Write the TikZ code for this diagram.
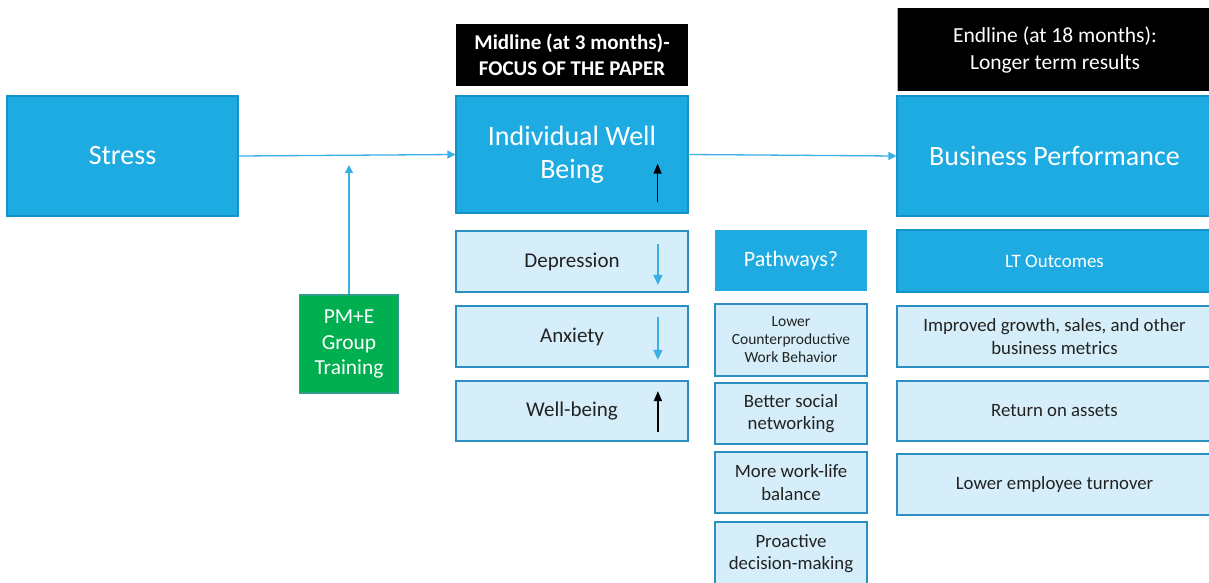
\documentclass[tikz,border=0pt]{standalone}
\usepackage{fontspec}
\setmainfont{Carlito}
\usetikzlibrary{arrows.meta}
\definecolor{bigblue}{HTML}{1EABE2}
\definecolor{bigedge}{HTML}{1592C6}
\definecolor{lightfill}{HTML}{D5EEF9}
\definecolor{lightedge}{HTML}{2B8FC4}
\definecolor{linkblue}{HTML}{3AB0E4}
\definecolor{pmgreen}{HTML}{00AF50}
\definecolor{pmedge}{HTML}{2E9E8A}
\definecolor{txtgray}{HTML}{222222}
\tikzset{
  bigbox/.style={draw=bigedge, line width=1.2pt, fill=bigblue, text=white, align=center, inner sep=0pt, font=\fontsize{28}{33}\selectfont},
  headbox/.style={draw=bigedge, line width=1.2pt, fill=bigblue, text=white, align=center, inner sep=0pt, font=\fontsize{19}{23}\selectfont},
  lightbox/.style={draw=lightedge, line width=1.8pt, fill=lightfill, text=txtgray, align=center, inner sep=0pt, font=\fontsize{18.8}{22.5}\selectfont},
  wellbox/.style={lightbox, font=\fontsize{21}{25}\selectfont},
  blackbox/.style={fill=black, text=white, align=center, inner sep=0pt},
  greenbox/.style={draw=pmedge, line width=1.2pt, fill=pmgreen, text=white, align=center, inner sep=0pt, font=\fontsize{21.4}{25.5}\selectfont},
  link/.style={draw=linkblue, line width=1.3pt, -{Triangle[length=8pt,width=8pt]}},
  uparrow/.style={draw=black, line width=1.5pt, -{Triangle[length=10pt,width=8pt]}},
  downarrow/.style={draw=linkblue, line width=1.5pt, -{Triangle[length=10pt,width=9pt]}},
}
\begin{document}
\begin{tikzpicture}[x=1pt,y=-1pt]
\useasboundingbox[fill=white] (0,0) rectangle (1209,582);

% top row
\node[bigbox, minimum width=231pt, minimum height=120pt] (stress) at (122.5,156) {Stress};
\node[bigbox, minimum width=232pt, minimum height=117pt] (iwb) at (572,154.5) {\rule{0pt}{4pt}Individual Well\\Being};
\node[bigbox, minimum width=315pt, minimum height=120pt] (bp) at (1054.5,156) {Business Performance};

% headers
\node[blackbox, minimum width=232pt, minimum height=62pt, font=\fontsize{21}{26}\selectfont\bfseries] (mid) at (572,55) {Midline (at 3 months)-\\FOCUS OF THE PAPER};
\node[blackbox, minimum width=314pt, minimum height=83pt, font=\fontsize{21.5}{27}\selectfont] (end) at (1055,49.5) {Endline (at 18 months):\\Longer term results};
\draw[gray!60, line width=0.8pt] (end.south west) -- (end.north west);

% intervention
\node[greenbox, minimum width=99pt, minimum height=98pt] (pme) at (349,344) {PM+E\\Group\\Training};
\coordinate (join) at (349,165);

% connectors
\draw[link] (stress.east) -- (iwb.west);
\draw[link] (iwb.east) -- (bp.west);
\draw[link] (pme.north) -- (join);

% well-being column
\node[wellbox, minimum width=232pt, minimum height=61pt] (dep) at (572,261.5) {Depression};
\node[wellbox, minimum width=232pt, minimum height=61pt] (anx) at (572,336.5) {Anxiety};
\node[wellbox, minimum width=232pt, minimum height=60pt] (wb) at (572,411) {Well-being};

% indicator arrows
\draw[uparrow] ([shift={(-31,-12)}]iwb.south east) -- ([shift={(-31,-50)}]iwb.south east);
\draw[downarrow] ([shift={(-31,14)}]dep.north east) -- ([shift={(-31,-8)}]dep.south east);
\draw[downarrow] ([shift={(-31,12)}]anx.north east) -- ([shift={(-31,-8)}]anx.south east);
\draw[uparrow] ([shift={(-31,-10)}]wb.south east) -- ([shift={(-31,11)}]wb.north east);

% pathways column
\node[headbox, minimum width=152pt, minimum height=61pt, draw=none, font=\fontsize{22}{26}\selectfont] (path) at (791,260.5) {Pathways?};
\node[lightbox, minimum width=152pt, minimum height=72pt, font=\fontsize{15.5}{18}\selectfont] (cwb) at (791,340) {Lower\\Counterproductive\\Work Behavior};
\node[lightbox, minimum width=152pt, minimum height=61pt] (soc) at (791,413.5) {Better social\\networking};
\node[lightbox, minimum width=152pt, minimum height=61pt] (wlb) at (791,482.5) {More work-life\\balance};
\node[lightbox, minimum width=152pt, minimum height=63pt] (pro) at (791,553.5) {Proactive\\decision-making};

% long-term outcomes column
\node[headbox, minimum width=315pt, minimum height=62pt] (lt) at (1054.5,261) {LT Outcomes};
\node[lightbox, minimum width=315pt, minimum height=61pt] (grow) at (1054.5,336.5) {Improved growth, sales, and other\\business metrics};
\node[lightbox, minimum width=315pt, minimum height=60pt] (roa) at (1054.5,411) {Return on assets};
\node[lightbox, minimum width=315pt, minimum height=61pt] (turn) at (1054.5,484.5) {Lower employee turnover};
\end{tikzpicture}
\end{document}
